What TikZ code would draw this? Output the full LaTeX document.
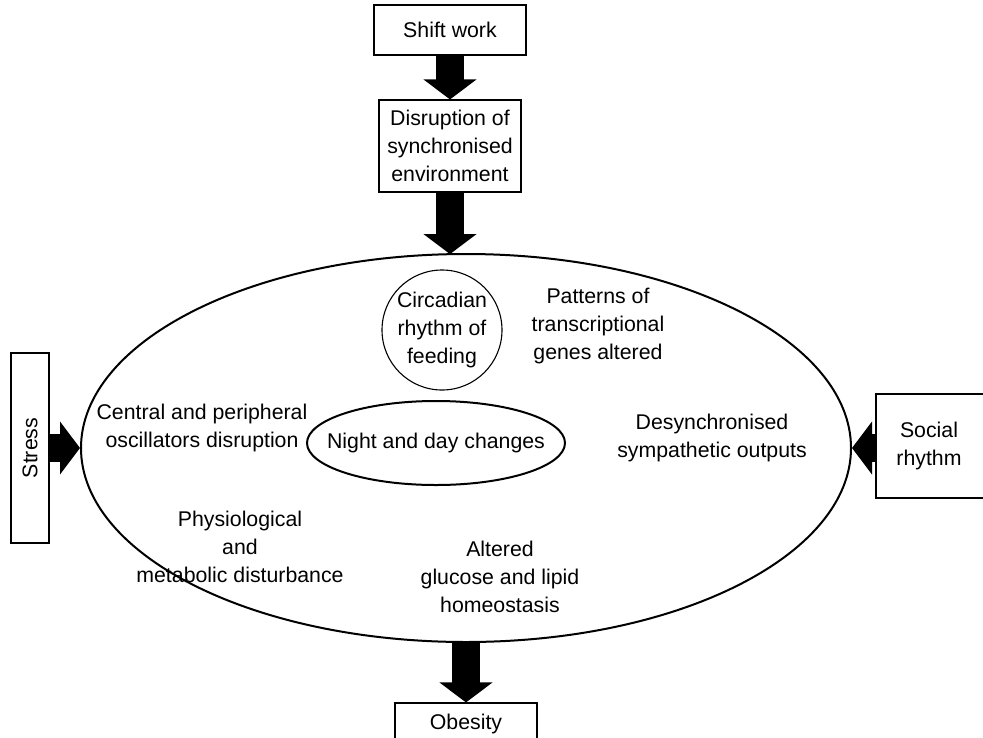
\documentclass[tikz,border=0pt]{standalone}
\usepackage{fontspec}
\setmainfont{Liberation Sans}
\usetikzlibrary{arrows.meta,shapes.geometric}
\begin{document}
\begin{tikzpicture}[x=1pt,y=-1pt,
  txt/.style={align=center,font=\fontsize{21.3}{28}\selectfont,inner sep=0pt},
  box/.style={draw,line width=1.1pt,align=center,font=\fontsize{21.3}{28}\selectfont,inner sep=0pt},
  blockarrow/.style={line width=28pt,-{Triangle[width=52pt,length=20pt]}},
]
\path[use as bounding box] (0,0) rectangle (983,737);
% boxes
\node[box,minimum width=152pt,minimum height=50pt] (shift) at (450,30) {Shift work};
\node[box,minimum width=142pt,minimum height=92pt] (disrupt) at (450,146) {Disruption of\\synchronised\\environment};
\node[draw,ellipse,line width=2pt,minimum width=770pt,minimum height=388pt,inner sep=0pt] (big) at (466,448) {};
\node[box,minimum width=38pt,minimum height=190pt] (stress) at (30,448) {};
\node[txt,rotate=90] (stresst) at (stress.center) {Stress};
\node[box,minimum width=110pt,minimum height=104pt] (social) at (931,446) {};
\node[txt] (socialt) at (929,446) {Social\\rhythm};
\node[box,minimum width=142pt,minimum height=46pt] (obesity) at (466,726) {};
\node[txt] (obesityt) at (466,724) {Obesity};
% inner shapes
\node[draw,circle,line width=1.1pt,minimum size=120pt,inner sep=0pt] (circ) at (442,330) {};
\node[txt] (circt) at (circ.center) {Circadian\\rhythm of\\feeding};
\node[draw,ellipse,line width=2pt,minimum width=258pt,minimum height=84pt,inner sep=0pt] (night) at (436,443) {};
\node[txt] (nightt) at (night.center) {Night and day changes};
% texts
\node[txt] (central) at (202,428) {Central and peripheral\\oscillators disruption};
\node[txt] (patterns) at (598,326) {Patterns of\\transcriptional\\genes altered};
\node[txt] (desync) at (712,438) {Desynchronised\\sympathetic outputs};
\node[txt] (physio) at (240,547) {Physiological\\and\\metabolic disturbance};
\node[txt] (altered) at (500,577) {Altered\\glucose and lipid\\homeostasis};
% arrows
\coordinate (bigtop) at (450,254.1);
\draw[blockarrow] (shift.south) -- (disrupt.north);
\draw[blockarrow] (disrupt.south) -- (bigtop);
\draw[blockarrow] (stress.east) -- (big.west);
\draw[blockarrow] (social.west |- big.east) -- (big.east);
\draw[blockarrow] (big.south) -- (obesity.north);
\end{tikzpicture}
\end{document}
